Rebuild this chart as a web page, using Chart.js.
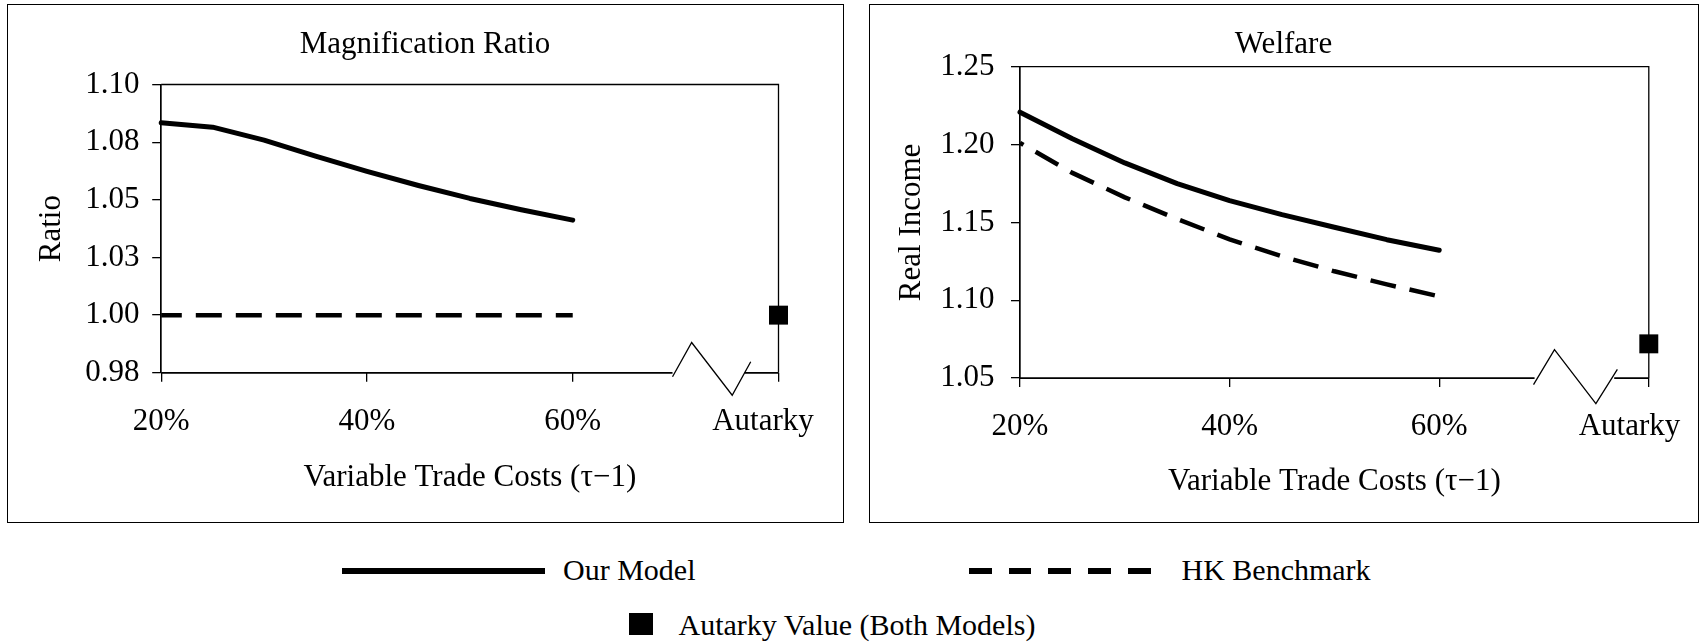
<!DOCTYPE html>
<html>
<head>
<meta charset="utf-8">
<script src="https://cdn.jsdelivr.net/npm/chart.js@4.4.1/dist/chart.umd.min.js"></script>
<style>
html,body{margin:0;padding:0;background:#fff;}
body{width:1700px;height:644px;position:relative;overflow:hidden;font-family:"Liberation Serif","Times New Roman",serif;color:#000;}
.panel{position:absolute;box-sizing:border-box;border:1.5px solid #000;background:#fff;}
.panel canvas{display:block;}
.lg{position:absolute;font-size:30px;line-height:30px;white-space:nowrap;}
.swatch{position:absolute;}
</style>
</head>
<body>
<div class="panel" style="left:7px;top:4px;width:837px;height:519px;"><canvas id="c1" width="834" height="516" style="width:834px;height:516px;"></canvas></div>
<div class="panel" style="left:869px;top:4px;width:830px;height:519px;"><canvas id="c2" width="827" height="516" style="width:827px;height:516px;"></canvas></div>

<div class="swatch" style="left:342px;top:568px;width:203px;height:5.5px;background:#000;"></div>
<div class="lg" style="left:563px;top:555px;">Our Model</div>
<div class="swatch" style="left:969px;top:567.5px;width:182px;height:6px;background:repeating-linear-gradient(to right,#000 0,#000 22.7px,transparent 22.7px,transparent 39.7px);"></div>
<div class="lg" style="left:1181.5px;top:555px;">HK Benchmark</div>
<div class="swatch" style="left:628.5px;top:613.3px;width:24.5px;height:21.7px;background:#000;"></div>
<div class="lg" style="left:678.5px;top:610px;">Autarky Value (Both Models)</div>

<script>
// ---------------- data ----------------
const xValues = [20, 25, 30, 35, 40, 45, 50, 55, 60];
const ratioOurModel = [1.0834, 1.0815, 1.0759, 1.0689, 1.0623, 1.0562, 1.0506, 1.0457, 1.0412];
const ratioHK = [1.00, 1.00, 1.00, 1.00, 1.00, 1.00, 1.00, 1.00, 1.00];
const welfareOurModel = [1.2208, 1.2037, 1.1882, 1.1749, 1.1640, 1.1550, 1.1469, 1.1389, 1.1321];
const welfareHK = [1.2011, 1.1818, 1.1661, 1.1522, 1.1391, 1.1282, 1.1186, 1.1102, 1.1025];
const autarkyX = 80;
const ratioAutarky = 1.00;
const welfareAutarky = 1.072;
const xTickValues = [20, 40, 60, 80];
const xTickLabels = ['20%', '40%', '60%', 'Autarky'];
const ratioTickValues = [0.975, 1.000, 1.025, 1.050, 1.075, 1.100];
const ratioTickLabels = ['0.98', '1.00', '1.03', '1.05', '1.08', '1.10'];
const welfareTickValues = [1.05, 1.10, 1.15, 1.20, 1.25];
const welfareTickLabels = ['1.05', '1.10', '1.15', '1.20', '1.25'];

// ---------------- chart setup ----------------
Chart.defaults.font.family = '"Liberation Serif", "Times New Roman", serif';
Chart.defaults.font.size = 31;
Chart.defaults.color = '#000';

const frameAndBreak = {
  id: 'frameAndBreak',
  beforeDatasetsDraw(chart, args, o) {
    const {ctx, chartArea: a} = chart;
    const x = chart.scales.x;
    ctx.save();
    ctx.strokeStyle = '#000';
    ctx.lineCap = 'butt';
    ctx.lineWidth = o.frameWidth;
    ctx.beginPath();
    ctx.moveTo(a.left, a.top);
    ctx.lineTo(a.right, a.top);
    ctx.lineTo(a.right, a.bottom);
    ctx.stroke();
    ctx.lineWidth = o.axisWidth;
    ctx.beginPath();
    ctx.moveTo(a.left, a.bottom);
    ctx.lineTo(x.getPixelForValue(o.gapStart), a.bottom);
    ctx.moveTo(x.getPixelForValue(o.gapEnd), a.bottom);
    ctx.lineTo(a.right, a.bottom);
    ctx.stroke();
    ctx.lineWidth = o.zigWidth;
    ctx.beginPath();
    o.zig.forEach(([v, dy], i) => {
      const px = x.getPixelForValue(v), py = a.bottom + dy;
      if (i) ctx.lineTo(px, py); else ctx.moveTo(px, py);
    });
    ctx.stroke();
    ctx.restore();
  }
};

function pts(xs, ys) { return xs.map((v, i) => ({x: v, y: ys[i]})); }

function makeChart(id, L) {
  const ctx = document.getElementById(id);
  return new Chart(ctx, {
    type: 'line',
    data: {
      datasets: [
        {
          label: 'Our Model', data: pts(xValues, L.our),
          borderColor: '#000', borderWidth: 5, pointRadius: 0, tension: 0,
          borderCapStyle: 'round', borderJoinStyle: 'round', clip: false
        },
        {
          label: 'HK Benchmark', data: pts(xValues, L.hk),
          borderColor: '#000', borderWidth: 4.5, pointRadius: 0, tension: 0,
          borderDash: [26, 14], borderDashOffset: L.dashOffset, borderCapStyle: 'butt', clip: false
        },
        {
          label: 'Autarky Value (Both Models)', data: [{x: autarkyX, y: L.aut}],
          showLine: false, pointStyle: 'rect', pointRadius: 13.4, pointHoverRadius: 13.4,
          pointBackgroundColor: '#000', pointBorderWidth: 0, clip: false
        }
      ]
    },
    options: {
      responsive: false,
      animation: false,
      events: [],
      layout: {padding: {left: 0, top: 0, right: 0, bottom: L.padBottom}},
      plugins: {
        legend: {display: false},
        tooltip: {enabled: false},
        title: {
          display: true, text: L.title,
          font: {size: 31, weight: 'normal', lineHeight: 1.2},
          padding: {top: L.titleTop, bottom: L.titleBottom}, color: '#000'
        },
        frameAndBreak: L.brk
      },
      scales: {
        x: {
          type: 'linear', min: 20, max: 80,
          afterBuildTicks: s => { s.ticks = xTickValues.map(v => ({value: v})); },
          afterFit: s => { s.height = L.xHeight; s.paddingLeft = 0; s.paddingRight = 0; },
          ticks: {
            autoSkip: false, maxRotation: 0, minRotation: 0, padding: 21.6,
            font: {size: 31, lineHeight: 1.2},
            callback: (v, i) => i === xTickLabels.length - 1 ? xTickLabels[i] + '\u00a0'.repeat(L.autPad) : xTickLabels[i]
          },
          grid: {drawOnChartArea: false, drawTicks: true, tickLength: 9, tickWidth: 1.3, tickColor: '#000', color: '#000', lineWidth: 1.3},
          border: {display: false},
          title: {display: true, text: 'Variable Trade Costs (\u03c4\u22121)', font: {size: 31, lineHeight: 1.2}, padding: {top: 0, bottom: L.xTitleBottom}, color: '#000'}
        },
        y: {
          type: 'linear', min: L.yMin, max: L.yMax,
          afterBuildTicks: s => { s.ticks = L.yTicks.map(v => ({value: v})); },
          afterFit: s => { s.width = L.yWidth; s.paddingTop = 0; s.paddingBottom = 0; },
          ticks: {
            autoSkip: false, padding: L.yTickPad, font: {size: 31, lineHeight: 1.2},
            callback: (v, i) => L.yLabels[i]
          },
          grid: {drawOnChartArea: false, drawTicks: true, tickLength: 9, tickWidth: 1.3, tickColor: '#000', color: '#000', lineWidth: 1.3},
          border: {display: true, color: '#000', width: 1.7},
          title: {display: true, text: L.yTitle, font: {size: 31, lineHeight: 1.2}, padding: {top: L.yTitleTop, bottom: 0}, color: '#000'}
        },
        spacer: {
          type: 'linear', position: 'right', display: true,
          afterFit: s => { s.width = L.padRight; s.paddingTop = 0; s.paddingBottom = 0; },
          ticks: {display: false},
          grid: {display: false, drawTicks: false},
          border: {display: false},
          title: {display: false}
        }
      }
    },
    plugins: [frameAndBreak]
  });
}

makeChart('c1', {
  title: 'Magnification Ratio', yTitle: 'Ratio',
  our: ratioOurModel, hk: ratioHK, aut: ratioAutarky, dashOffset: 5.4,
  yMin: 0.975, yMax: 1.1, yTicks: ratioTickValues, yLabels: ratioTickLabels,
  padRight: 63.5, padBottom: 8.2, titleTop: 21.1, titleBottom: 21.2,
  xHeight: 140, xTitleBottom: 16.7, yWidth: 153.2, yTickPad: 12.7, yTitleTop: 24.9, autPad: 4,
  brk: {frameWidth: 1.3, axisWidth: 1.7, zigWidth: 1.3, gapStart: 69.7, gapEnd: 76.7,
        zig: [[69.7, 4], [71.56, -30.3], [75.5, 22.4], [77.3, -11]]}
});

makeChart('c2', {
  title: 'Welfare', yTitle: 'Real Income',
  our: welfareOurModel, hk: welfareHK, aut: welfareAutarky, dashOffset: 22,
  yMin: 1.05, yMax: 1.25, yTicks: welfareTickValues, yLabels: welfareTickLabels,
  padRight: 48.2, padBottom: 7.9, titleTop: 21.1, titleBottom: 3.4,
  xHeight: 135, xTitleBottom: 13.0, yWidth: 150, yTickPad: 16.5, yTitleTop: 22.9, autPad: 5,
  brk: {frameWidth: 1.3, axisWidth: 1.7, zigWidth: 1.3, gapStart: 69.1, gapEnd: 76.7,
        zig: [[69.0, 6.5], [71.0, -28.4], [74.95, 25.6], [77.0, -8.7]]}
});
</script>
</body>
</html>
